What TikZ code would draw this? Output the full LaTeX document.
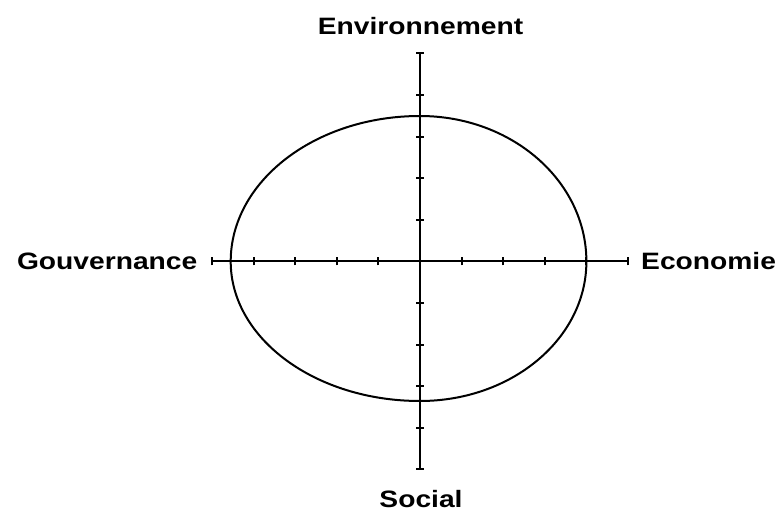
\documentclass[tikz,border=0pt]{standalone}
\usepackage{fontspec}
\setmainfont{Liberation Sans}
\usetikzlibrary{calc}
\begin{document}
\begin{tikzpicture}[x=1pt,y=1pt,
  axisline/.style={line width=2pt},
  tickline/.style={line width=2pt},
  curveline/.style={line width=2pt},
  lab/.style={inner sep=0pt,font=\fontsize{23.7}{28}\selectfont\bfseries}]
\useasboundingbox (0,0) rectangle (780,512);
\coordinate (C) at (420,250.5);
\coordinate (L) at (212.2,250.5);
\coordinate (R) at (628.2,250.5);
\coordinate (T) at (420,458.5);
\coordinate (B) at (420,42.5);
% curve
\draw[curveline] ($(C)+(166.4,0)$)
  arc[start angle=0,end angle=90,x radius=166.4pt,y radius=145.5pt]
  arc[start angle=90,end angle=180,x radius=189.3pt,y radius=145.5pt]
  arc[start angle=180,end angle=270,x radius=189.3pt,y radius=139.5pt]
  arc[start angle=270,end angle=360,x radius=166.4pt,y radius=139.5pt] -- cycle;
% axes
\draw[axisline] (L) -- (R);
\draw[axisline] (B) -- (T);
\foreach \i in {-5,...,5}{
  \draw[tickline] ($(C)+(\i*41.6,-4)$) -- ++(0,8);
  \draw[tickline] ($(C)+(-4,\i*41.6)$) -- ++(8,0);
}
% labels
\node[lab,anchor=base] (env) at (420.5,477.7) {\scalebox{1.19}[1]{Environnement}};
\node[lab,anchor=base] (soc) at (421,4.5) {\scalebox{1.19}[1]{Social}};
\node[lab,anchor=base east] (gov) at (197.5,242) {\scalebox{1.19}[1]{Gouvernance}};
\node[lab,anchor=base west] (eco) at (641,242) {\scalebox{1.19}[1]{Economie}};
\end{tikzpicture}
\end{document}
